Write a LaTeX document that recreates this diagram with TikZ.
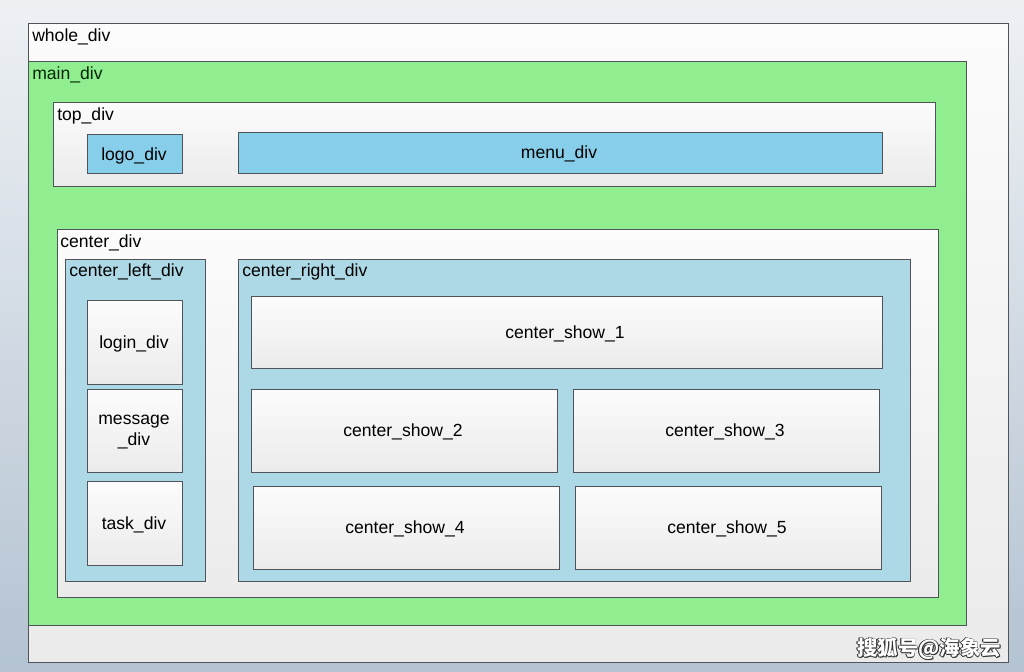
\documentclass[tikz,border=0pt]{standalone}
\usepackage{fontspec}
\setmainfont{Liberation Sans}
\newfontfamily\cjkfont{Noto Sans CJK SC}
\usepackage{tikz}
\usetikzlibrary{positioning}

\definecolor{bgtop}{HTML}{EEF1F4}
\definecolor{bgbot}{HTML}{B4C3D2}
\definecolor{framegray}{HTML}{505458}
\definecolor{maingreen}{HTML}{90EE90}
\definecolor{skyfill}{HTML}{87CEEB}
\definecolor{lightfill}{HTML}{ADD8E6}
\definecolor{boxtop}{HTML}{FCFCFC}
\definecolor{boxbot}{HTML}{EBEBEB}

\tikzset{
  divbox/.style={draw=framegray,line width=0.6pt,top color=boxtop,bottom color=boxbot},
  greenbox/.style={draw=framegray,line width=0.6pt,fill=maingreen},
  skybox/.style={draw=framegray,line width=0.6pt,fill=skyfill},
  bluebox/.style={draw=framegray,line width=0.6pt,fill=lightfill},
  divlabel/.style={anchor=north west,inner sep=0pt,font=\fontsize{12.5}{15}\selectfont},
  showlabel/.style={inner sep=0pt,align=center,font=\fontsize{12.5}{15}\selectfont},
  marklabel/.style={inner sep=0pt,font=\cjkfont\bfseries\fontsize{14.5}{16}\selectfont}
}

\begin{document}
\begin{tikzpicture}[x=0.025cm,y=-0.025cm]
\useasboundingbox (0,0) rectangle (1024,671);
\shade[top color=bgtop,bottom color=bgbot] (0,0) rectangle (1024,671);

% outer containers
\draw[divbox] (28,23) rectangle (1008,662);
\node[divlabel] (wholelbl) at (32,28) {whole\_div};
\draw[greenbox] (28,61) rectangle (966,625);
\node[divlabel,text=black!85!green] (mainlbl) at (32,66) {main\_div};

% top part
\draw[divbox] (53,102) rectangle (935,186);
\node[divlabel] (toplbl) at (57,107) {top\_div};
\draw[skybox] (87,134) rectangle (182,173);
\node[showlabel] (logo) at (134,156) {logo\_div};
\draw[skybox] (238,132) rectangle (882,173);
\node[showlabel] (menu) at (559,154) {menu\_div};

% center part
\draw[divbox] (57,229) rectangle (938,597);
\node[divlabel] (centerlbl) at (60,234) {center\_div};

\draw[bluebox] (65,259) rectangle (205,581);
\node[divlabel] (leftlbl) at (69,263) {center\_left\_div};
\draw[divbox] (87,300) rectangle (182,384);
\node[showlabel] (login) at (134,344) {login\_div};
\draw[divbox] (87,389) rectangle (182,472);
\node[showlabel] (message) at (134,432) {message\\\_div};
\draw[divbox] (87,481) rectangle (182,565);
\node[showlabel] (task) at (134,525) {task\_div};

\draw[bluebox] (238,259) rectangle (910,581);
\node[divlabel] (rightlbl) at (242,263) {center\_right\_div};
\draw[divbox] (251,296) rectangle (882,368);
\node[showlabel] (show1) at (565,334) {center\_show\_1};
\draw[divbox] (251,389) rectangle (557,472);
\node[showlabel] (show2) at (403,432) {center\_show\_2};
\draw[divbox] (573,389) rectangle (879,472);
\node[showlabel] (show3) at (725,432) {center\_show\_3};
\draw[divbox] (253,486) rectangle (559,569);
\node[showlabel] (show4) at (405,529) {center\_show\_4};
\draw[divbox] (575,486) rectangle (881,569);
\node[showlabel] (show5) at (727,529) {center\_show\_5};

% watermark
\foreach \dx/\dy in {-0.8/0,0.8/0,0/-0.8,0/0.8,0.8/0.8,-0.8/-0.8}
  \node[marklabel,text=black!80] at (929+\dx,649+\dy) {搜狐号@海象云};
\node[marklabel,text=white] (mark) at (929,649) {搜狐号@海象云};
\end{tikzpicture}
\end{document}
